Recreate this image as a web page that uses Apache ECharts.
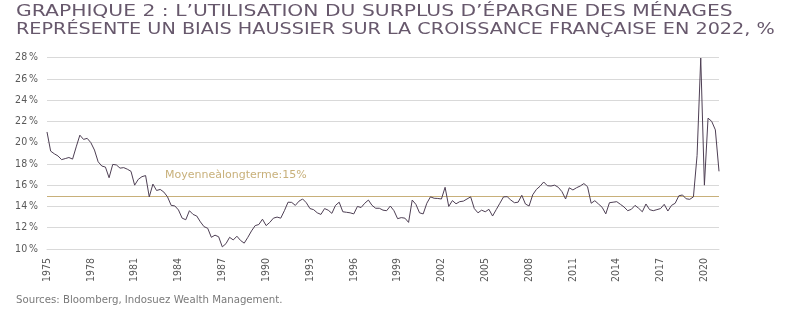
<!DOCTYPE html>
<html>
<head>
<meta charset="utf-8">
<script src="https://cdn.jsdelivr.net/npm/echarts@6/dist/echarts.min.js"></script>
<style>
  html, body { margin: 0; padding: 0; background: #ffffff; }
  #chart { width: 788px; height: 321px; }
</style>
</head>
<body>
<div id="chart"></div>
<script>
// ---- DATA ----
const firstYear = 1975;
const lastYear = 2021;          // series runs 1975 T1 -> 2021 T1 (quarterly)
const tickYears = [1975, 1978, 1981, 1984, 1987, 1990, 1993, 1996, 1999, 2002, 2005, 2008, 2011, 2014, 2017, 2020];
const yTicks = [10, 12, 14, 16, 18, 20, 22, 24, 26, 28];
const longTermMean = 15;
const meanLabel = "Moyenneàlongterme:15%";
const titleLine1 = "GRAPHIQUE 2 : L’UTILISATION DU SURPLUS D’ÉPARGNE DES MÉNAGES";
const titleLine2 = "REPRÉSENTE UN BIAIS HAUSSIER SUR LA CROISSANCE FRANÇAISE EN 2022, %";
const sourceText = "Sources: Bloomberg, Indosuez Wealth Management.";

// Household savings rate, %, quarterly
const savingsRate = [
  21.0, 19.2, 18.95, 18.75, 18.4, 18.5, 18.6, 18.45, 19.6, 20.7,
  20.3, 20.4, 20.0, 19.3, 18.2, 17.8, 17.7, 16.7, 17.95, 17.9,
  17.6, 17.65, 17.5, 17.3, 16.0, 16.55, 16.8, 16.9, 14.9, 16.1,
  15.5, 15.6, 15.35, 14.9, 14.1, 14.05, 13.67, 12.9, 12.75, 13.6,
  13.25, 13.1, 12.55, 12.1, 11.95, 11.1, 11.3, 11.15, 10.2, 10.5,
  11.1, 10.85, 11.2, 10.8, 10.55, 11.1, 11.7, 12.2, 12.3, 12.8,
  12.2, 12.5, 12.9, 13.0, 12.9, 13.6, 14.4, 14.38, 14.1, 14.5,
  14.7, 14.35, 13.8, 13.7, 13.4, 13.25, 13.8, 13.65, 13.35, 14.1,
  14.4, 13.5, 13.45, 13.4, 13.3, 14.0, 13.9, 14.3, 14.6, 14.1,
  13.83, 13.83, 13.65, 13.6, 14.04, 13.6, 12.85, 12.95, 12.9, 12.5,
  14.6, 14.2, 13.4, 13.3, 14.3, 14.9, 14.77, 14.75, 14.7, 15.8,
  14.0, 14.55, 14.25, 14.45, 14.5, 14.7, 14.9, 13.8, 13.4, 13.65,
  13.5, 13.73, 13.1, 13.7, 14.3, 14.9, 14.92, 14.6, 14.35, 14.4,
  15.05, 14.23, 14.04, 15.1, 15.6, 15.9, 16.3, 15.95, 15.92, 16.0,
  15.8, 15.39, 14.7, 15.75, 15.55, 15.76, 15.92, 16.15, 15.86, 14.3,
  14.54, 14.23, 13.92, 13.3, 14.35, 14.4, 14.45, 14.2, 13.95, 13.6,
  13.73, 14.1, 13.83, 13.5, 14.23, 13.7, 13.6, 13.7, 13.8, 14.2,
  13.57, 14.1, 14.3, 15.0, 15.08, 14.72, 14.67, 14.9, 18.8, 27.95,
  16.0, 22.3, 22.0, 21.2, 17.3
];

// quarterly category labels
const categories = [];
for (let y = firstYear; y <= lastYear; y++) {
  for (let q = 1; q <= 4; q++) {
    if (categories.length < savingsRate.length) categories.push(y + " T" + q);
  }
}

// ---- CHART ----
const chart = echarts.init(document.getElementById('chart'), null, { renderer: 'canvas' });
const textPurple = '#67586c';
const titleFont = { fontFamily: 'DejaVu Sans', fontSize: 16.5, fontWeight: 'normal', fill: textPurple, textVerticalAlign: 'top', textAlign: 'left' };

const option = {
  backgroundColor: '#ffffff',
  animation: false,
  grid: { left: 47, right: 69, top: 57.5, bottom: 72, containLabel: false },
  xAxis: {
    type: 'category',
    data: categories,
    boundaryGap: false,
    axisLine: { show: true, lineStyle: { color: '#d9d9d9', width: 1 } },
    axisTick: { show: false },
    splitLine: { show: false },
    axisLabel: {
      rotate: 90,
      margin: 9,
      fontFamily: 'DejaVu Sans Condensed',
      fontSize: 10.5,
      color: '#595959',
      interval: function (idx, val) {
        return val.endsWith('T1') && tickYears.indexOf(parseInt(val, 10)) >= 0;
      },
      formatter: function (val) { return val.slice(0, 4); }
    }
  },
  yAxis: {
    type: 'value',
    min: yTicks[0],
    max: yTicks[yTicks.length - 1],
    interval: 2,
    axisLine: { show: false },
    axisTick: { show: false },
    splitLine: { show: true, lineStyle: { color: '#d9d9d9', width: 1 } },
    axisLabel: {
      margin: 9,
      fontFamily: 'DejaVu Sans Condensed',
      fontSize: 10.5,
      color: '#595959',
      formatter: '{value}\u2009%'
    }
  },
  series: [
    {
      type: 'line',
      data: savingsRate,
      symbol: 'none',
      lineStyle: { color: '#4e3f54', width: 1 },
      z: 3,
      markLine: {
        silent: true,
        symbol: ['none', 'none'],
        lineStyle: { color: '#c8b07a', width: 1, type: 'solid' },
        label: { show: false },
        data: [{ yAxis: longTermMean }],
        z: 2
      }
    }
  ],
  graphic: [
    {
      type: 'text', x: 16, y: 3.5, scaleX: 1.23,
      style: Object.assign({ text: titleLine1 }, titleFont)
    },
    {
      type: 'text', x: 16, y: 21, scaleX: 1.165,
      style: Object.assign({ text: titleLine2 }, titleFont)
    },
    {
      type: 'text', x: 16, y: 300,
      style: { text: sourceText, fontFamily: 'DejaVu Sans', fontSize: 10.2, fill: '#7a7a7a', textVerticalAlign: 'middle' }
    },
    {
      type: 'text',
      left: 165,
      top: 170,
      style: { text: meanLabel, fontFamily: 'DejaVu Sans', fontSize: 11, fill: '#c8b07a' }
    }
  ]
};
chart.setOption(option);
</script>
</body>
</html>
